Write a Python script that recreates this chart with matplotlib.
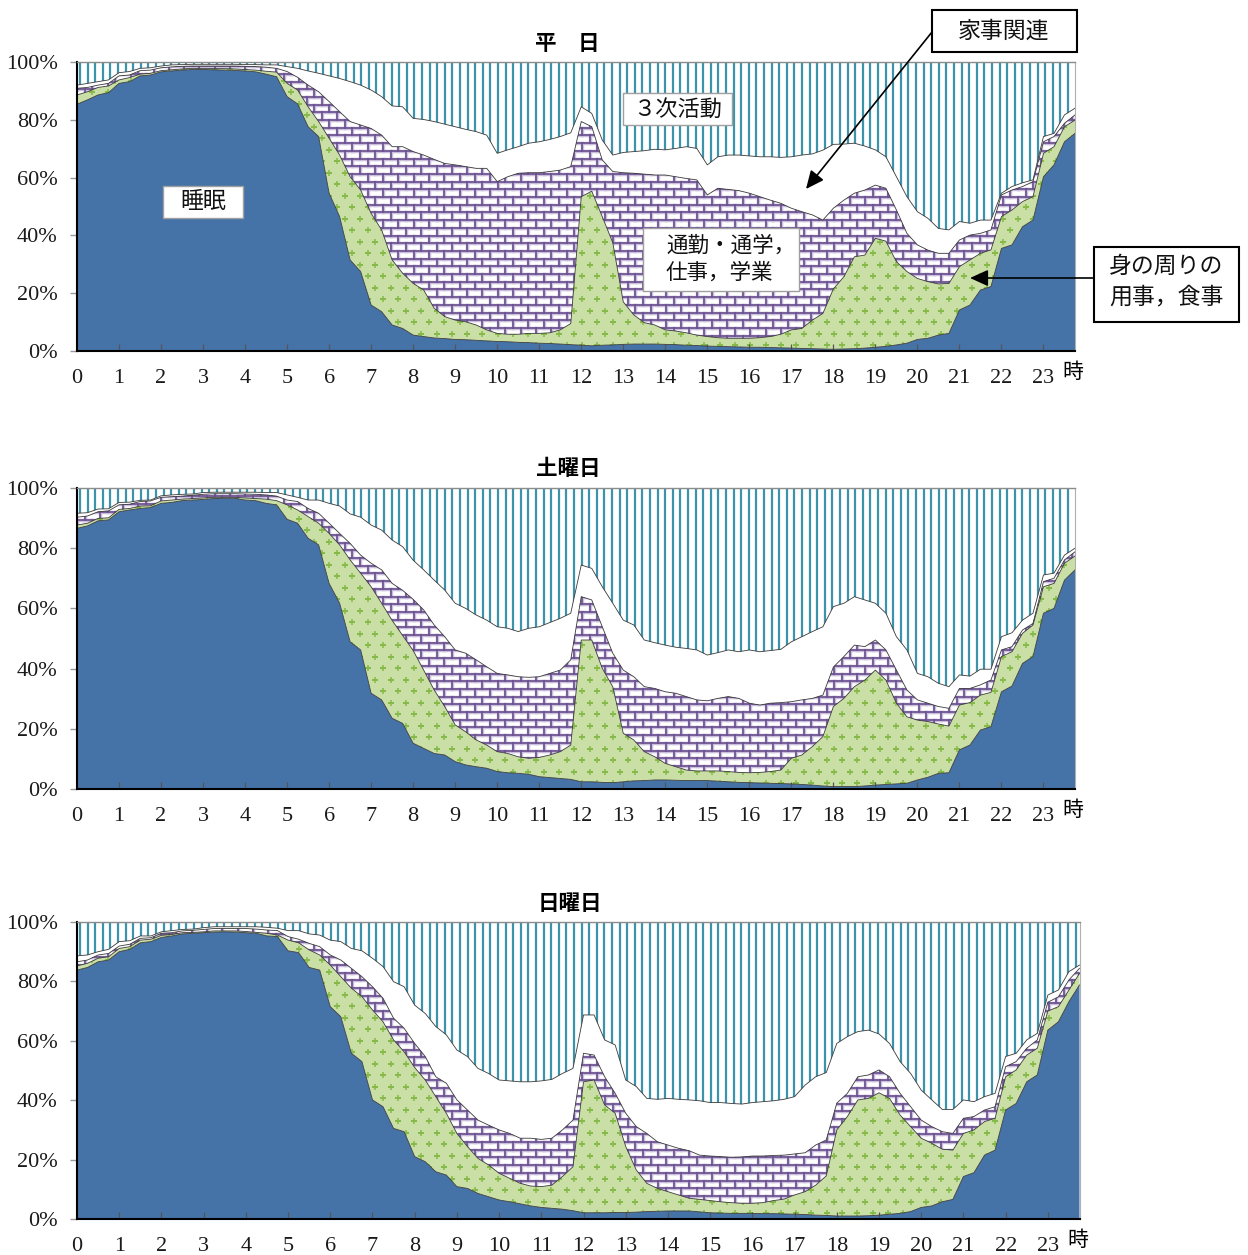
import numpy as np
import matplotlib.pyplot as plt
from matplotlib.collections import LineCollection
from matplotlib.patches import Rectangle, FancyArrowPatch

W, H = 1248, 1255
JP = ['Noto Sans CJK JP', 'DejaVu Sans']
plt.rcParams['font.family'] = ['Liberation Serif', 'DejaVu Serif']

# start of each 15-minute slot (hours)
hours = np.arange(96) * 0.25
hour_ticks = list(range(24))
pct_ticks = [0, 20, 40, 60, 80, 100]

# share of people (%) doing each activity, 0:00 .. 23:45 in 15-minute slots
weekday_sleep = [
    85.4, 86.9, 88.6, 89.4, 92.6, 93.2, 95.2, 95.5,
    96.6, 96.9, 97.2, 97.4, 97.4, 97.3, 97.2, 97.1,
    96.9, 96.6, 95.8, 94.9, 88.0, 85.5, 77.6, 74.2,
    54.6, 46.5, 31.5, 27.5, 15.9, 13.6, 9.0, 7.8,
    5.5, 5.0, 4.5, 4.3, 4.0, 3.9, 3.7, 3.5,
    3.3, 3.2, 3.0, 2.9, 2.7, 2.6, 2.4, 2.2,
    2.0, 1.8, 2.0, 2.1, 2.3, 2.4, 2.4, 2.4,
    2.3, 2.2, 2.0, 1.9, 1.7, 1.6, 1.5, 1.4,
    1.3, 1.3, 1.2, 1.1, 1.0, 0.9, 0.8, 0.7,
    0.6, 0.7, 0.8, 1.0, 1.3, 1.6, 2.1, 2.7,
    4.0, 4.4, 5.5, 6.1, 14.2, 15.9, 21.1, 22.3,
    35.5, 36.7, 43.0, 45.3, 60.3, 64.4, 72.4, 75.3]
weekday_personal = [
    3.2, 2.8, 2.6, 2.3, 1.2, 1.4, 0.6, 0.6,
    0.4, 0.4, 0.4, 0.4, 0.4, 0.4, 0.5, 0.5,
    0.5, 0.6, 1.0, 1.6, 4.6, 4.8, 6.9, 5.2,
    19.0, 21.3, 28.8, 28.2, 31.7, 28.3, 22.5, 19.1,
    17.9, 16.1, 10.3, 7.6, 6.7, 6.2, 5.3, 3.8,
    2.8, 2.6, 2.8, 3.2, 3.4, 3.7, 4.9, 7.3,
    51.4, 53.5, 44.5, 35.4, 14.7, 10.1, 7.4, 6.6,
    5.0, 4.7, 4.3, 3.6, 3.3, 3.0, 2.9, 3.0,
    3.1, 3.3, 3.8, 4.7, 6.3, 6.9, 9.9, 12.3,
    20.9, 25.0, 31.8, 32.2, 37.7, 36.4, 28.8, 24.8,
    21.1, 19.6, 17.7, 17.3, 15.0, 15.6, 12.7, 12.7,
    11.0, 12.1, 8.7, 8.1, 8.1, 6.3, 5.2, 4.6]
weekday_work = [
    2.3, 1.5, 0.8, 0.9, 1.4, 0.9, 1.2, 1.1,
    1.0, 1.0, 0.9, 0.8, 0.8, 0.9, 0.9, 1.0,
    1.1, 1.2, 1.4, 1.3, 4.1, 4.4, 7.5, 10.3,
    12.7, 15.0, 19.1, 22.5, 29.4, 32.8, 39.2, 43.8,
    45.6, 46.7, 51.5, 53.0, 53.7, 53.7, 54.2, 55.9,
    52.5, 54.5, 55.7, 55.6, 55.6, 55.8, 55.3, 54.3,
    26.0, 22.3, 19.6, 24.6, 44.7, 49.0, 51.4, 51.9,
    53.6, 53.4, 53.4, 53.7, 49.0, 51.7, 51.5, 51.1,
    50.2, 48.8, 47.2, 45.3, 42.1, 40.4, 36.4, 32.3,
    27.9, 26.5, 22.0, 22.5, 18.4, 18.3, 17.9, 13.2,
    11.6, 10.9, 10.6, 10.4, 9.2, 8.6, 6.9, 6.9,
    7.5, 6.9, 5.2, 5.2, 4.0, 3.5, 1.2, 1.8]
weekday_house = [
    1.1, 1.4, 1.2, 1.2, 1.1, 1.2, 0.8, 0.8,
    0.6, 0.7, 0.6, 0.6, 0.6, 0.6, 0.6, 0.6,
    0.6, 0.7, 0.8, 1.2, 1.7, 3.1, 4.9, 6.4,
    8.9, 11.5, 13.8, 13.8, 13.3, 13.3, 14.1, 13.8,
    11.5, 12.3, 13.1, 13.6, 13.2, 12.9, 12.7, 11.5,
    9.8, 9.3, 9.2, 10.2, 10.7, 11.1, 11.6, 11.7,
    5.1, 4.6, 6.9, 5.7, 7.0, 7.5, 8.1, 8.9,
    8.7, 9.8, 11.0, 10.9, 10.4, 10.9, 11.9, 12.3,
    12.9, 13.8, 15.0, 15.9, 17.8, 19.6, 21.1, 24.2,
    22.1, 19.4, 17.3, 15.2, 12.2, 10.9, 11.5, 12.7,
    11.5, 11.0, 8.6, 8.1, 6.4, 4.1, 4.6, 3.4,
    0.6, 1.2, 1.3, 0.6, 1.8, 1.1, 2.9, 2.3]
weekday_tertiary = [
    8.0, 7.4, 6.8, 6.2, 3.7, 3.3, 2.2, 2.0,
    1.4, 1.0, 0.9, 0.8, 0.8, 0.8, 0.8, 0.8,
    0.9, 0.9, 1.0, 1.0, 1.6, 2.2, 3.1, 3.9,
    4.8, 5.7, 6.8, 8.0, 9.7, 12.0, 15.2, 15.5,
    19.5, 19.9, 20.6, 21.5, 22.4, 23.3, 24.1, 25.3,
    31.6, 30.4, 29.3, 28.1, 27.6, 26.8, 25.8, 24.5,
    15.5, 17.8, 27.0, 32.2, 31.3, 31.0, 30.7, 30.2,
    30.4, 29.9, 29.3, 29.9, 35.6, 32.8, 32.2, 32.2,
    32.5, 32.8, 32.8, 33.0, 32.8, 32.2, 31.8, 30.5,
    28.5, 28.4, 28.1, 29.1, 30.4, 32.8, 39.7, 46.6,
    51.8, 54.1, 57.6, 58.1, 55.2, 55.8, 54.7, 54.7,
    45.4, 43.1, 41.8, 40.8, 25.8, 24.7, 18.3, 16.0]

saturday_sleep = [
    86.6, 87.4, 89.1, 89.4, 92.1, 92.7, 93.2, 93.5,
    94.9, 95.2, 95.8, 96.0, 96.2, 96.5, 96.6, 96.6,
    96.0, 95.8, 94.9, 94.4, 89.6, 88.3, 83.3, 81.1,
    68.3, 61.7, 48.9, 46.2, 31.8, 29.6, 23.5, 21.8,
    15.2, 13.5, 11.8, 11.3, 9.1, 8.0, 7.4, 6.9,
    5.8, 5.4, 5.2, 4.9, 4.1, 3.8, 3.5, 3.2,
    2.4, 2.4, 2.2, 2.1, 2.4, 2.7, 2.8, 3.0,
    3.0, 2.9, 2.8, 2.8, 2.8, 2.6, 2.4, 2.2,
    2.1, 2.0, 1.9, 1.8, 1.7, 1.5, 1.3, 1.0,
    0.8, 0.8, 0.8, 1.0, 1.3, 1.5, 1.7, 1.9,
    3.0, 3.9, 5.2, 5.4, 13.0, 14.6, 19.6, 20.7,
    32.3, 34.2, 41.7, 44.0, 58.4, 60.0, 69.4, 72.8]
saturday_personal = [
    1.1, 0.9, 0.8, 0.7, 0.8, 0.5, 0.8, 0.6,
    0.8, 0.8, 0.5, 0.5, 0.5, 0.4, 0.3, 0.3,
    0.7, 0.7, 1.4, 1.4, 4.8, 4.4, 7.2, 7.2,
    16.6, 19.4, 27.2, 25.5, 35.4, 32.1, 32.5, 29.2,
    30.8, 26.0, 21.1, 16.1, 12.2, 11.0, 8.9, 7.7,
    6.6, 6.4, 5.5, 5.3, 6.4, 7.5, 8.9, 11.4,
    47.1, 47.1, 37.9, 31.9, 16.1, 13.6, 9.6, 7.7,
    5.5, 4.5, 3.5, 3.2, 3.2, 3.4, 3.4, 3.3,
    3.3, 3.5, 3.9, 4.5, 8.5, 9.8, 12.8, 16.4,
    26.6, 29.3, 33.2, 35.2, 38.2, 34.7, 26.8, 22.1,
    19.9, 18.5, 16.4, 15.5, 14.9, 14.1, 11.6, 11.4,
    11.7, 11.4, 10.0, 10.5, 8.8, 8.3, 5.6, 4.6]
saturday_work = [
    2.6, 2.4, 2.2, 2.3, 1.5, 1.4, 1.5, 1.6,
    1.2, 1.1, 1.0, 1.1, 1.2, 1.2, 1.2, 1.2,
    1.3, 1.4, 1.4, 1.5, 1.6, 2.8, 2.7, 3.3,
    3.4, 3.8, 5.5, 6.0, 7.8, 11.1, 12.3, 15.0,
    17.0, 20.0, 21.6, 23.2, 24.9, 26.1, 26.6, 26.0,
    26.0, 26.1, 26.6, 26.9, 26.8, 27.1, 27.1, 28.3,
    14.4, 13.3, 13.8, 11.1, 21.0, 21.0, 21.6, 22.7,
    23.8, 24.4, 24.4, 23.6, 23.3, 24.1, 24.9, 24.6,
    23.1, 22.4, 22.7, 22.4, 18.8, 18.3, 16.0, 13.8,
    13.1, 13.9, 13.8, 11.1, 10.0, 10.0, 11.0, 8.9,
    6.7, 6.1, 5.8, 5.9, 5.5, 4.7, 3.4, 4.1,
    2.2, 1.7, 1.1, 0.5, 1.7, 1.7, 1.1, 1.4]
saturday_house = [
    1.3, 1.1, 0.9, 0.7, 0.8, 0.7, 0.4, 0.3,
    0.5, 0.6, 0.6, 0.4, 0.6, 0.5, 0.5, 0.5,
    0.6, 0.7, 0.8, 1.2, 1.7, 1.4, 2.8, 4.4,
    6.6, 9.1, 9.8, 12.6, 12.7, 13.2, 14.4, 14.5,
    13.0, 13.3, 14.9, 15.5, 15.5, 14.9, 14.9, 15.5,
    15.5, 15.5, 15.0, 16.3, 16.6, 16.9, 17.2, 15.5,
    10.5, 10.5, 13.3, 16.6, 16.6, 17.2, 15.5, 15.2,
    15.5, 15.3, 16.0, 16.6, 15.2, 15.2, 15.5, 15.5,
    17.7, 17.7, 17.5, 17.7, 19.9, 21.0, 22.2, 22.7,
    20.1, 17.7, 16.1, 15.5, 12.2, 12.2, 11.1, 13.3,
    8.8, 8.8, 7.7, 7.2, 4.5, 4.1, 5.2, 3.6,
    4.4, 4.6, 3.3, 3.4, 2.2, 1.7, 1.6, 1.2]
saturday_tertiary = [
    8.4, 8.2, 7.0, 6.9, 4.8, 4.7, 4.1, 4.0,
    2.6, 2.3, 2.1, 2.0, 1.5, 1.4, 1.4, 1.4,
    1.4, 1.4, 1.5, 1.5, 2.3, 3.1, 4.0, 4.0,
    5.1, 6.0, 8.6, 9.7, 12.3, 14.0, 17.3, 19.5,
    24.0, 27.2, 30.6, 33.9, 38.3, 40.0, 42.2, 43.9,
    46.1, 46.6, 47.7, 46.6, 46.1, 44.7, 43.3, 41.6,
    25.6, 26.7, 32.8, 38.3, 43.9, 45.5, 50.5, 51.4,
    52.2, 52.9, 53.3, 53.8, 55.5, 54.7, 53.8, 54.4,
    53.8, 54.4, 54.0, 53.6, 51.1, 49.4, 47.7, 46.1,
    39.4, 38.3, 36.1, 37.2, 38.3, 41.6, 49.4, 53.8,
    61.6, 62.7, 64.9, 66.0, 62.1, 62.5, 60.2, 60.2,
    49.4, 48.1, 43.9, 41.6, 28.9, 28.3, 22.3, 20.0]

sunday_sleep = [
    83.8, 84.7, 86.6, 87.2, 90.0, 90.8, 93.0, 93.4,
    94.8, 95.3, 96.0, 96.2, 96.4, 96.6, 96.7, 96.6,
    96.4, 96.2, 95.3, 95.1, 90.3, 89.7, 84.7, 83.8,
    71.5, 68.1, 55.8, 53.0, 40.1, 37.8, 30.5, 29.4,
    21.0, 19.3, 15.9, 14.8, 10.9, 10.3, 8.6, 7.5,
    6.4, 5.8, 5.1, 4.4, 3.9, 3.6, 3.3, 2.8,
    2.1, 2.1, 2.1, 2.2, 2.2, 2.3, 2.5, 2.6,
    2.7, 2.7, 2.7, 2.4, 2.1, 2.0, 1.9, 1.9,
    1.9, 1.8, 1.8, 1.7, 1.6, 1.5, 1.3, 1.2,
    1.0, 1.0, 1.0, 1.1, 1.3, 1.6, 1.9, 2.5,
    3.9, 4.4, 5.8, 6.6, 14.3, 15.6, 21.5, 23.2,
    36.7, 38.9, 46.2, 48.5, 63.6, 66.4, 73.2, 78.8]
sunday_personal = [
    1.4, 1.4, 1.2, 1.1, 1.1, 0.9, 0.9, 0.8,
    0.7, 0.5, 0.4, 0.3, 0.3, 0.4, 0.3, 0.4,
    0.4, 0.3, 0.9, 0.5, 3.6, 3.3, 5.9, 5.1,
    14.0, 13.5, 21.9, 21.9, 30.3, 28.6, 29.8, 26.9,
    30.0, 27.5, 25.3, 20.8, 17.9, 14.1, 11.8, 10.7,
    9.0, 7.9, 6.9, 6.7, 7.0, 7.8, 11.0, 14.8,
    44.1, 44.7, 36.3, 33.4, 22.2, 14.2, 9.5, 7.7,
    6.5, 5.4, 4.3, 4.2, 4.1, 3.8, 3.6, 3.4,
    3.4, 3.7, 4.4, 5.0, 6.5, 7.7, 10.1, 13.3,
    29.0, 33.5, 39.1, 39.5, 41.2, 39.0, 33.1, 28.6,
    23.3, 21.1, 17.7, 16.6, 14.5, 14.4, 11.3, 10.7,
    11.2, 11.3, 9.0, 9.0, 6.4, 5.1, 3.9, 3.9]
sunday_work = [
    1.4, 1.1, 1.1, 1.1, 0.8, 0.8, 0.6, 0.5,
    0.7, 0.6, 0.6, 0.7, 0.8, 0.8, 0.8, 0.8,
    1.0, 1.1, 1.1, 1.5, 1.2, 1.2, 2.2, 2.8,
    3.4, 5.6, 6.7, 6.7, 7.8, 7.9, 7.3, 7.9,
    8.1, 7.9, 6.7, 10.1, 11.3, 12.3, 12.9, 13.4,
    14.6, 15.1, 15.2, 16.1, 15.9, 15.8, 15.7, 15.7,
    9.6, 8.4, 9.5, 6.7, 11.2, 14.6, 16.8, 15.7,
    15.7, 15.7, 16.0, 14.9, 15.0, 15.2, 15.3, 15.6,
    15.9, 15.7, 15.2, 14.8, 13.8, 13.1, 13.5, 12.1,
    9.0, 7.8, 7.8, 7.9, 7.7, 7.3, 7.3, 6.7,
    6.1, 5.6, 5.9, 5.6, 5.1, 4.5, 3.9, 3.9,
    3.4, 2.8, 2.3, 2.8, 3.0, 3.3, 3.4, 1.7]
sunday_house = [
    2.0, 1.7, 1.1, 1.4, 1.5, 1.2, 0.8, 0.6,
    0.5, 0.7, 0.5, 0.4, 0.6, 0.6, 0.6, 0.6,
    0.6, 0.8, 0.9, 0.8, 2.0, 2.9, 3.2, 3.9,
    5.0, 6.2, 6.7, 8.7, 9.6, 10.7, 12.3, 14.0,
    12.9, 14.5, 16.9, 16.3, 16.8, 18.0, 17.4, 17.4,
    16.8, 17.7, 19.0, 19.0, 19.7, 19.8, 19.0, 17.4,
    12.9, 13.5, 12.4, 16.3, 11.2, 13.5, 11.8, 14.3,
    15.7, 16.5, 17.1, 18.3, 18.0, 18.2, 18.1, 17.8,
    18.0, 18.3, 18.4, 18.8, 19.3, 22.8, 23.0, 22.7,
    20.1, 19.1, 15.2, 15.1, 12.1, 11.2, 10.7, 11.2,
    10.1, 9.0, 7.5, 8.1, 6.2, 5.0, 4.5, 4.5,
    3.4, 2.8, 2.8, 2.2, 2.4, 2.3, 2.8, 1.1]
sunday_tertiary = [
    11.4, 11.1, 10.0, 9.2, 6.6, 6.3, 4.7, 4.7,
    3.3, 2.9, 2.5, 2.4, 1.9, 1.6, 1.6, 1.6,
    1.6, 1.6, 1.8, 2.1, 2.9, 2.9, 4.0, 4.4,
    6.1, 6.6, 8.9, 9.7, 12.2, 15.0, 20.1, 21.8,
    28.0, 30.8, 35.2, 38.0, 43.1, 45.3, 49.3, 51.0,
    53.2, 53.5, 53.8, 53.8, 53.5, 53.0, 51.0, 49.3,
    31.3, 31.3, 39.7, 41.4, 53.2, 55.4, 59.4, 59.7,
    59.4, 59.7, 59.9, 60.2, 60.8, 60.8, 61.1, 61.3,
    60.8, 60.5, 60.2, 59.7, 58.8, 54.9, 52.1, 50.7,
    40.9, 38.6, 36.9, 36.4, 37.7, 40.9, 47.0, 51.0,
    56.6, 59.9, 63.1, 63.1, 59.9, 60.5, 58.8, 57.7,
    45.3, 44.2, 39.7, 37.5, 24.6, 22.9, 16.7, 14.5]

days = [
    ('平　日', [weekday_sleep, weekday_personal, weekday_work,
               weekday_house, weekday_tertiary]),
    ('土曜日', [saturday_sleep, saturday_personal, saturday_work,
               saturday_house, saturday_tertiary]),
    ('日曜日', [sunday_sleep, sunday_personal, sunday_work,
               sunday_house, sunday_tertiary]),
]

# axes boxes in pixels: left, top, right, bottom
boxes = [(77, 62, 1075, 351), (77, 488, 1075, 789), (77, 922, 1079.5, 1219)]
title_xy = [(567, 43), (568, 468), (570, 904)]

BLUE = '#4572A7'
GREEN = '#C9DFA6'
PLUS = '#86BA48'
PURPLE = '#6A4F8E'
LAVENDER = '#C9BEDC'
TEAL = '#3C93AA'
EDGE = '#3a3a3a'
XMAX = 23.75


def fig_xy(x, y):
    return x / W, 1 - y / H


def clip_to(artist, path, ax):
    artist.set_clip_path(path, ax.transData)


def stripes(ax, path, ph):
    step = 7.6 / ph
    xs = np.arange(step * 0.4, XMAX, step)
    lc = ax.vlines(xs, 0, 100, colors=TEAL, linewidth=1.6, zorder=1.5)
    clip_to(lc, path, ax)


def bricks(ax, path, ph, pp):
    dy = 7.7 / pp
    bw = 15.3 / ph
    segs = []
    for k, y0 in enumerate(np.arange(0, 100 + dy, dy)):
        segs.append([(0, y0), (XMAX, y0)])
        off = 0 if k % 2 == 0 else bw / 2
        for x in np.arange(off, XMAX, bw):
            segs.append([(x, y0), (x, y0 + dy)])
    for color, lw in ((LAVENDER, 2.5), (PURPLE, 1.2)):
        lc = LineCollection(segs, colors=color, linewidths=lw, zorder=1.5,
                            capstyle='projecting')
        ax.add_collection(lc)
        clip_to(lc, path, ax)


def pluses(ax, path, ph, pp):
    dx = 15.3 / ph
    dy = 11.5 / pp
    px, py = [], []
    for k, y in enumerate(np.arange(dy / 2, 100, dy)):
        off = 0 if k % 2 == 0 else dx / 2
        for x in np.arange(off, XMAX + dx, dx):
            px.append(x)
            py.append(y)
    sc = ax.scatter(px, py, marker='+', s=16, c=PLUS, linewidths=1.1,
                    zorder=1.5)
    clip_to(sc, path, ax)


fig = plt.figure(figsize=(W / 100, H / 100), dpi=100)

for (title, shares), (l, t, r, b), (tx, ty) in zip(days, boxes, title_xy):
    ax = fig.add_axes([l / W, 1 - b / H, (r - l) / W, (b - t) / H])
    ph = (r - l) / XMAX
    pp = (b - t) / 100.0

    data = np.array(shares)
    tops = np.cumsum(data, axis=0)
    lows = tops - data

    for i in range(5):
        face = {0: BLUE, 1: GREEN}.get(i, 'white')
        poly = ax.fill_between(hours, lows[i], tops[i], facecolor=face,
                               edgecolor='none', linewidth=0, zorder=1)
        path = poly.get_paths()[0]
        if i == 1:
            pluses(ax, path, ph, pp)
        elif i == 2:
            bricks(ax, path, ph, pp)
        elif i == 4:
            stripes(ax, path, ph)
    for i in range(4):
        ax.plot(hours, tops[i], color=EDGE, linewidth=0.6, zorder=2)

    ax.set_xlim(0, XMAX)
    ax.set_ylim(0, 100)
    ax.set_xticks(hour_ticks)
    ax.set_xticklabels([str(h) for h in hour_ticks])
    ax.set_yticks(pct_ticks)
    ax.set_yticklabels([f'{p}%' for p in pct_ticks])
    ax.tick_params(axis='x', direction='in', length=5, width=0.9,
                   color='#555555', pad=13, labelsize=16,
                   labelcolor='#1a1a1a')
    ax.tick_params(axis='y', direction='out', length=5, width=1.0,
                   color='#999999', pad=9, labelsize=16,
                   labelcolor='#1a1a1a')
    ax.spines['left'].set_linewidth(1.5)
    ax.spines['bottom'].set_linewidth(1.5)
    ax.spines['top'].set_color('#8c8c8c')
    ax.spines['top'].set_linewidth(1.0)
    ax.spines['right'].set_color('#b0b0b0')
    ax.spines['right'].set_linewidth(0.8)
    for s in ax.spines.values():
        s.set_zorder(3)

    fig.text(*fig_xy(tx, ty), title, family=JP, fontsize=15.5,
             weight='bold', ha='center', va='center')
    fig.text(*fig_xy(r - 2, b + 21), '時', family=JP, fontsize=15,
             ha='center', va='center')


def label_box(x0, y0, x1, y1, edge, lw):
    x, y = fig_xy(x0, y1)
    fig.add_artist(Rectangle((x, y), (x1 - x0) / W, (y1 - y0) / H,
                             transform=fig.transFigure, facecolor='white',
                             edgecolor=edge, linewidth=lw, zorder=5))


def label_text(x, y, s, size=16.5, ha='center'):
    fig.text(*fig_xy(x, y), s, family=JP, fontsize=size, ha=ha,
             va='center', zorder=6, color='#111111')


def arrow(x0, y0, x1, y1):
    fig.add_artist(FancyArrowPatch(
        fig_xy(x0, y0), fig_xy(x1, y1), transform=fig.transFigure,
        arrowstyle='-|>,head_length=0.55,head_width=0.25', mutation_scale=20,
        color='black', linewidth=1.2, shrinkA=0, shrinkB=0, zorder=6))


# category labels on the weekday panel
label_box(163, 186, 243, 218, '#a0a0a0', 1.0)
label_text(203, 202, '睡眠')
label_box(623, 93, 732, 125, '#a0a0a0', 1.0)
label_text(677.5, 109, '３次活動', size=16)
label_box(643, 228, 799, 291, '#a0a0a0', 1.0)
label_text(666, 246, '通勤・通学，', size=15.5, ha='left')
label_text(666, 273, '仕事，学業', size=15.5, ha='left')

label_box(932, 10, 1077, 52, 'black', 1.5)
label_text(1004, 31, '家事関連')
arrow(932, 32, 806, 189)

label_box(1094, 247, 1239, 322, 'black', 1.5)
label_text(1166, 266, '身の周りの')
label_text(1166, 297, '用事，食事')
arrow(1094, 278, 970, 278)

fig.savefig('out.png', dpi=100)
